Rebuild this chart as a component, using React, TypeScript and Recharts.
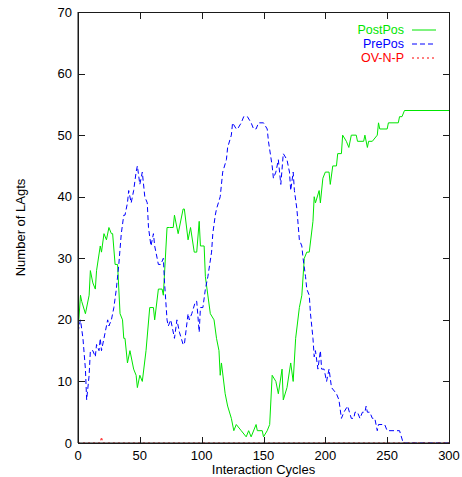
import { LineChart, Line, XAxis, YAxis } from "recharts";

// [interaction cycle, number of agents]
const postPos: [number, number][] = [
  [0, 18], [2, 24], [3, 23], [6, 21], [9, 24], [10, 28], [12, 26], [14, 25], [15, 28],
  [18, 32], [19, 31], [21, 34], [23, 33], [25, 35], [27, 34], [28, 34], [30, 29], [32, 29],
  [34, 21], [36, 20], [37, 17], [38, 17], [40, 13], [42, 15], [45, 12], [47, 11], [48, 9],
  [50, 11], [52, 10], [55, 15], [58, 22], [61, 22], [62, 20], [65, 25], [68, 25], [69, 24],
  [72, 35], [74, 35], [77, 35], [78, 37], [81, 34], [85, 38], [86, 38], [89, 33], [91, 35],
  [94, 31], [96, 31], [98, 36], [99, 32], [102, 32], [103, 27], [107, 21], [110, 20],
  [112, 17], [114, 15], [115, 11], [116, 13], [119, 8], [121, 6], [124, 4], [126, 2],
  [128, 3], [132, 2], [136, 1], [138, 2], [140, 1], [144, 3], [145, 2], [149, 2], [150, 1],
  [153, 2], [155, 3], [157, 11], [160, 10], [162, 8], [165, 12], [166, 7], [169, 9],
  [172, 13], [174, 10], [176, 17], [179, 22], [181, 24], [183, 30], [185, 31], [187, 31],
  [190, 36], [191, 40], [192, 39], [195, 41], [196, 39], [198, 43], [200, 44], [203, 44],
  [204, 42], [206, 45], [209, 45], [210, 47], [213, 47], [214, 50], [217, 49], [219, 48],
  [221, 50], [225, 50], [226, 49], [231, 49], [232, 50], [234, 48], [235, 49], [238, 49],
  [242, 50], [243, 52], [244, 51], [250, 51], [251, 52], [259, 52], [260, 53], [262, 53],
  [264, 54], [300, 54],
];

const prePos: [number, number][] = [
  [0, 18], [2, 20], [4, 17], [6, 12], [7, 7], [9, 11], [10, 15], [12, 15], [14, 14],
  [15, 16], [17, 15], [18, 17], [19, 15], [22, 18], [24, 20], [25, 19], [27, 20], [29, 22],
  [31, 25], [33, 29], [35, 34], [37, 37], [38, 37], [40, 39], [41, 41], [43, 39], [45, 41],
  [47, 44], [48, 45], [50, 42], [52, 44], [54, 40], [56, 39], [57, 35], [59, 32], [61, 34],
  [62, 32], [65, 29], [67, 29], [69, 30], [70, 26], [72, 20], [73, 19], [75, 20], [78, 17],
  [80, 20], [82, 18], [85, 16], [86, 16], [89, 21], [90, 20], [92, 21], [95, 23], [96, 23],
  [98, 18], [99, 22], [101, 22], [103, 25], [105, 27], [108, 31], [109, 34], [111, 37],
  [112, 38], [115, 40], [116, 42], [117, 44], [120, 46], [121, 48], [124, 50], [125, 52],
  [128, 51], [129, 51], [132, 52], [134, 53], [137, 53], [140, 52], [142, 51], [144, 51],
  [146, 52], [150, 52], [153, 51], [154, 49], [157, 45], [158, 43], [160, 44], [162, 46],
  [164, 42], [166, 47], [169, 46], [171, 44], [172, 41], [174, 44], [175, 41], [177, 38],
  [179, 33], [181, 32], [182, 30], [184, 27], [185, 25], [187, 24], [188, 21], [190, 17],
  [191, 14], [192, 15], [194, 12], [196, 15], [197, 12], [199, 12], [201, 10], [203, 12],
  [205, 9], [209, 8], [211, 7], [213, 4], [215, 5], [218, 6], [221, 4], [223, 4], [224, 5],
  [226, 5], [228, 4], [230, 5], [232, 5], [233, 6], [234, 5], [236, 5], [238, 4], [240, 4],
  [242, 2], [243, 3], [248, 3], [250, 2], [260, 2], [263, 0], [300, 0],
];

const ovnp: [number, number][] = [
  [0, 0], [18, 0], [19, 1], [20, 0], [300, 0],
];

const xTicks = [0, 50, 100, 150, 200, 250, 300];
const yTicks = [0, 10, 20, 30, 40, 50, 60, 70];

const X_MAX = 300;
const Y_MAX = 70;

// chart geometry
const W = 462;
const H = 477;
const M = { top: 12, right: 13, bottom: 0, left: 0 };
const X_AXIS_H = 34;
const Y_AXIS_W = 78;
const PLOT = {
  left: M.left + Y_AXIS_W,
  top: M.top,
  right: W - M.right,
  bottom: H - M.bottom - X_AXIS_H,
};
const TICK = 6;
const INK = "#1a1a1a";

const toRows = (pts: [number, number][]) => pts.map(([t, v]) => ({ t, v }));

const FONT = "'Liberation Sans', Arial, Helvetica, sans-serif";
const GREEN = "#00e600";
const BLUE = "#0000ff";
const RED = "#ff0000";

const legendItems = [
  { name: "PostPos", color: GREEN, dash: undefined },
  { name: "PrePos", color: BLUE, dash: "5 3" },
  { name: "OV-N-P", color: RED, dash: "2 3" },
];

const tickStyle = { fill: "#000", fontSize: 13, fontFamily: FONT };

// box frame with gnuplot-style inward ticks, as plain html boxes
function Frame() {
  const px = (t: number) => Math.round(PLOT.left + (t / X_MAX) * (PLOT.right - PLOT.left));
  const py = (v: number) => Math.round(PLOT.bottom - (v / Y_MAX) * (PLOT.bottom - PLOT.top));
  const box = (key: string, left: number, top: number, width: number, height: number) => (
    <div key={key} style={{ position: "absolute", left, top, width, height, background: INK }} />
  );
  const w = PLOT.right - PLOT.left;
  const h = PLOT.bottom - PLOT.top;
  return (
    <div style={{ position: "absolute", left: 0, top: 0, width: W, height: H, pointerEvents: "none" }}>
      {box("top", PLOT.left, PLOT.top, w + 1, 1)}
      {box("bottom", PLOT.left, PLOT.bottom, w + 1, 1)}
      {box("left", PLOT.left, PLOT.top, 1, h + 1)}
      {box("right", PLOT.right, PLOT.top, 1, h + 1)}
      {xTicks.map((t) => box(`xb${t}`, px(t), PLOT.bottom - TICK, 1, TICK))}
      {xTicks.map((t) => box(`xt${t}`, px(t), PLOT.top + 1, 1, TICK))}
      {yTicks.map((v) => box(`yl${v}`, PLOT.left + 1, py(v), TICK, 1))}
      {yTicks.map((v) => box(`yr${v}`, PLOT.right - TICK, py(v), TICK, 1))}
    </div>
  );
}

export default function App() {
  return (
    <div style={{ position: "absolute", left: 0, top: 0, width: W, height: H, background: "#fff" }}>
      <LineChart width={W} height={H} margin={M}>
        <XAxis
          dataKey="t"
          type="number"
          domain={[0, X_MAX]}
          ticks={xTicks}
          allowDataOverflow
          height={X_AXIS_H}
          stroke={INK}
          tickLine={false}
          tickSize={6}
          tickMargin={2}
          tick={tickStyle}
          label={{ value: "Interaction Cycles", position: "insideBottom", offset: 3, fill: "#000", fontSize: 13, fontFamily: FONT }}
        />
        <YAxis
          type="number"
          domain={[0, Y_MAX]}
          ticks={yTicks}
          allowDataOverflow
          width={Y_AXIS_W}
          stroke={INK}
          tickLine={false}
          tickSize={6}
          tickMargin={0}
          tick={tickStyle}
          label={{ value: "Number of LAgts", angle: -90, position: "insideLeft", offset: 20, fill: "#000", fontSize: 13, fontFamily: FONT, style: { textAnchor: "middle" } }}
        />
        <Line data={toRows(postPos)} dataKey="v" type="linear" stroke={GREEN} strokeWidth={1} dot={false} isAnimationActive={false} />
        <Line data={toRows(prePos)} dataKey="v" type="linear" stroke={BLUE} strokeWidth={1} strokeDasharray="5 3" dot={false} isAnimationActive={false} />
        <Line data={toRows(ovnp)} dataKey="v" type="linear" stroke={RED} strokeWidth={1} strokeDasharray="2 3" dot={false} isAnimationActive={false} />
      </LineChart>
      <Frame />
      {legendItems.map((item, i) => (
        <div key={item.name} style={{ position: "absolute", top: 30 + i * 14 - 7, left: 0, width: W, height: 14 }}>
          <span style={{ position: "absolute", right: W - 404, top: 0, color: item.color, fontSize: 12.5, fontFamily: FONT, lineHeight: "14px", whiteSpace: "nowrap" }}>
            {item.name}
          </span>
          <svg style={{ position: "absolute", left: 412, top: 0 }} width={25} height={14}>
            <line x1={0} y1={7} x2={24} y2={7} stroke={item.color} strokeWidth={1} strokeDasharray={item.dash} />
          </svg>
        </div>
      ))}
    </div>
  );
}
